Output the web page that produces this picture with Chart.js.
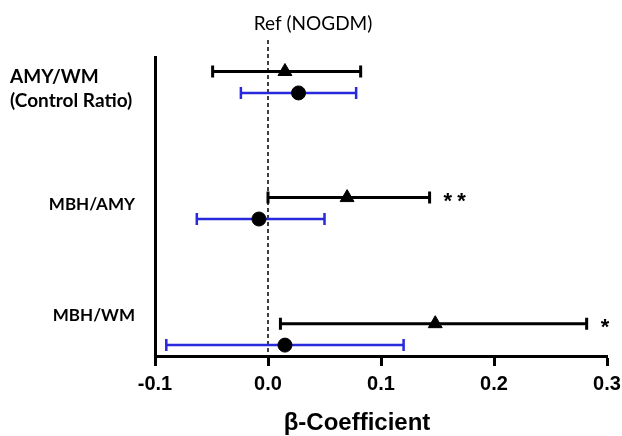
<!DOCTYPE html>
<html><head><meta charset="utf-8">
<script src="https://cdn.jsdelivr.net/npm/chart.js@4.4.1/dist/chart.umd.min.js"></script>
<style>html,body{margin:0;padding:0;background:#fff;}#wrap{width:622px;height:436px;}</style>
</head><body><div id="wrap"><canvas id="c" width="622" height="436"></canvas></div>
<script>
const categories = ['AMY/WM\n(Control Ratio)', 'MBH/AMY', 'MBH/WM'];
const gdmEst = [0.015, 0.070, 0.148];
const gdmLo  = [-0.049, 0.000, 0.011];
const gdmHi  = [0.082, 0.143, 0.282];
const ctlEst = [0.027, -0.008, 0.015];
const ctlLo  = [-0.024, -0.063, -0.090];
const ctlHi  = [0.078, 0.050, 0.120];
const signif = ['', '**', '*'];
const xTicks = [-0.1, 0.0, 0.1, 0.2, 0.3];
const labelPos = [0.053, 0.97, 1.85];
const refLabel = 'Ref (NOGDM)';
const xTitle = 'β-Coefficient';

const OFF = 0.085;
const blackData = gdmEst.map((v,i)=>({x:v, y:i-OFF}));
const blueData = ctlEst.map((v,i)=>({x:v, y:i+OFF}));

const forestPlugin = {
  id:'forest',
  beforeDatasetsDraw(chart){
    const {ctx, scales:{x,y}, chartArea} = chart;
    ctx.save();
    const x0 = x.getPixelForValue(0);
    ctx.strokeStyle='#000'; ctx.lineWidth=1.5; ctx.setLineDash([4,3]);
    ctx.beginPath(); ctx.moveTo(x0, 40); ctx.lineTo(x0, chartArea.bottom); ctx.stroke();
    ctx.setLineDash([]);
    const drawBar=(lo,hi,yy,color,w)=>{
      const a=x.getPixelForValue(lo), b=x.getPixelForValue(hi), p=y.getPixelForValue(yy);
      ctx.strokeStyle=color; ctx.lineWidth=w;
      ctx.beginPath(); ctx.moveTo(a,p); ctx.lineTo(b,p);
      ctx.moveTo(a,p-6); ctx.lineTo(a,p+6);
      ctx.moveTo(b,p-6); ctx.lineTo(b,p+6); ctx.stroke();
    };
    for(let i=0;i<categories.length;i++){
      drawBar(gdmLo[i],gdmHi[i],i-OFF,'#000',3);
      drawBar(ctlLo[i],ctlHi[i],i+OFF,'#2828dc',2.5);
    }
    ctx.restore();
  },
  afterDraw(chart){
    const {ctx, scales:{x,y}} = chart;
    ctx.save();
    ctx.fillStyle='#000';
    ctx.font='19px Lato, "Open Sans", sans-serif';
    ctx.textAlign='center'; ctx.textBaseline='middle';
    ctx.fillText(refLabel, x.getPixelForValue(0)+45, 24);
    ctx.font='bold 24px "Liberation Sans", Arial, sans-serif';
    ctx.fillText(xTitle, 357, 423);
    ctx.font='bold 22px "Liberation Sans", Arial, sans-serif';
    ctx.textAlign='left';
    ctx.letterSpacing='5px';
    for(let i=0;i<categories.length;i++){
      if(signif[i]) ctx.fillText(signif[i], x.getPixelForValue(gdmHi[i])+14, y.getPixelForValue(i-OFF)+4);
    }
    ctx.letterSpacing='0px';
    for(let i=0;i<categories.length;i++){
      const lines=categories[i].split('\n');
      const p=y.getPixelForValue(labelPos[i]);
      const lh=24;
      ctx.font = lines.length>1 ? 'bold 19px Lato, "Open Sans", sans-serif' : 'bold 17px Lato, "Open Sans", sans-serif';
      lines.forEach((t,k)=>{
        const yy=p+(k-(lines.length-1)/2)*lh;
        if(lines.length>1){ctx.textAlign='left'; ctx.fillText(t,10,yy);}
        else {ctx.textAlign='right'; ctx.fillText(t,135,yy);}
      });
    }
    ctx.restore();
  }
};

new Chart(document.getElementById('c'), {
  type:'scatter',
  data:{datasets:[
    {label:'GDM', data:blackData, pointStyle:'triangle', radius:8, hoverRadius:8, backgroundColor:'#000', borderColor:'#000', borderWidth:1},
    {label:'Control', data:blueData, pointStyle:'circle', radius:7, hoverRadius:7, backgroundColor:'#000', borderColor:'#000', borderWidth:1}
  ]},
  options:{
    responsive:false, animation:false,
    layout:{padding:{left:155, right:15, top:57, bottom:34}},
    plugins:{legend:{display:false}, tooltip:{enabled:false}},
    scales:{
      x:{type:'linear', min:-0.1, max:0.3,
        afterBuildTicks:(s)=>{s.ticks=xTicks.map(v=>({value:v}));},
        afterFit:(s)=>{s.paddingRight=0; s.paddingLeft=0;},
        ticks:{color:'#000', font:{family:'"Liberation Sans", Arial, sans-serif', size:20, weight:'bold'}, padding:6, callback:(v)=>Number(v).toFixed(1), maxRotation:0, autoSkip:false},
        grid:{drawOnChartArea:false, drawTicks:true, tickLength:10, tickWidth:3, color:'#000'},
        border:{display:true, width:3, color:'#000'}
      },
      y:{type:'linear', reverse:true, min:-0.2, max:2.1715,
        ticks:{display:false},
        grid:{display:false, drawTicks:false},
        border:{display:true, width:3, color:'#000'}
      }
    }
  },
  plugins:[forestPlugin]
});
</script>
</body></html>
